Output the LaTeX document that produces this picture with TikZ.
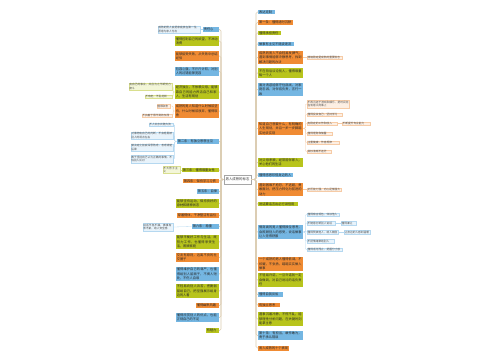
\documentclass[tikz,border=0pt]{standalone}
\usepackage{fontspec}
\newfontfamily\cjk{Noto Sans CJK SC}
\XeTeXlinebreaklocale "zh"
\XeTeXlinebreakskip = 0pt plus 1pt
\definecolor{cB}{HTML}{74B6E2}
\definecolor{cO}{HTML}{F08B33}
\definecolor{cG}{HTML}{B8C41C}
\definecolor{pB}{HTML}{E8F3FB}
\definecolor{pO}{HTML}{FDEFE3}
\definecolor{pG}{HTML}{F3F6D8}
\definecolor{lB}{HTML}{B5D8F0}
\definecolor{lO}{HTML}{F6CBA6}
\definecolor{lG}{HTML}{D9DF8E}
\definecolor{trk}{HTML}{DCCDB2}
\tikzset{
  base/.style={inner sep=1pt, align=left, font=\cjk\fontsize{3.2}{4.3}\selectfont, text=black!85},
  bb/.style={base, fill=cB},
  ob/.style={base, fill=cO},
  gb/.style={base, fill=cG},
  sub/.style={inner sep=0.6pt, align=left, font=\cjk\fontsize{2.7}{3.5}\selectfont, text=black!70, line width=0.2pt},
  pb/.style={sub, fill=pB, draw=lB},
  po/.style={sub, fill=pO, draw=lO},
  pg/.style={sub, fill=pG, draw=lG},
  trunk/.style={draw=trk, line width=0.6pt, rounded corners=1.5pt},
  sB/.style={draw=lB, line width=0.3pt, rounded corners=1pt},
  sO/.style={draw=lO, line width=0.3pt, rounded corners=1pt},
  sG/.style={draw=lG, line width=0.3pt, rounded corners=1pt},
  R/.style={anchor=west},
  L/.style={anchor=east},
}
\begin{document}
\begin{tikzpicture}[x=1pt,y=-1pt]
\useasboundingbox[fill=white] (0,0) rectangle (500,360);
% centre
\node[draw=black!35, fill=white, line width=0.3pt, inner sep=1pt, minimum width=27pt, minimum height=9pt, font=\cjk\fontsize{3.4}{4.3}\selectfont, text=black!80] (C) at (237.5,179.5) {男人成熟的标志};
\coordinate (tR) at (256,179.5);
\coordinate (tL) at (221,179.5);

% ---------- right side ----------
\node[bb,R,text width=15pt] (R1) at (258,12) {表达克制};
\node[ob,R,text width=33pt] (R2) at (258,22.5) {第一条：懂得适时沉默};
\node[gb,R,text width=21pt] (R3) at (258,33) {懂得承担责任};
\node[bb,R,text width=34pt] (R4) at (258,44) {做事有主见不随波逐流};
\node[ob,R,text width=43pt] (R5) at (258,57.5) {成熟的男人不会轻易发脾气，遇到事情能够冷静思考，找到解决问题的办法};
\node[po,R,text width=34pt] (R5a) at (307,57.5) {情绪稳定是成熟的重要标志};
\node[gb,R,text width=43pt] (R6) at (258,73) {不在背后议论别人，懂得尊重每一个人};
\node[bb,R,text width=43pt] (R7) at (258,89.5) {面对诱惑能够守住底线，对家庭忠诚，对伴侣负责，言行一致};
\node[ob,R,text width=43pt] (R8) at (258,128.5) {知道自己想要什么，有明确的人生规划，并且一步一步脚踏实地去实现};
\node[po,R,text width=41pt] (R8a) at (307,104) {不再沉迷于游戏和娱乐，把时间花在有意义的事上};
\node[po,R,text width=34pt] (R8b) at (307,114.5) {懂得投资自己，坚持学习};
\node[po,R,text width=29pt] (R8c) at (307,123.5) {有稳定的工作和收入};
\node[po,R,text width=27pt] (R8c1) at (342,123.5) {不断提升专业能力};
\node[po,R,text width=24pt] (R8d) at (307,133.5) {懂得理财和储蓄};
\node[po,R,text width=31pt] (R8e) at (307,142.5) {注重健康，作息规律};
\node[po,R,text width=23pt] (R8f) at (307,151.5) {目标清晰不迷茫};
\node[gb,R,text width=43pt] (R9) at (258,162.5) {对父母孝顺，经常陪伴家人，关心他们的生活};
\node[bb,R,text width=33pt] (R10) at (258,175) {懂得感恩珍惜身边的人};
\node[ob,R,text width=43pt] (R11) at (258,189.5) {遇到困难不抱怨，不逃避，勇敢面对，把压力转化为前进的动力};
\node[po,R,text width=33pt] (R11a) at (307,189.5) {抗压能力强，内心足够强大};
\node[gb,R,text width=38pt] (R12) at (258,204) {说话算话言出必行讲信用};
\node[bb,R,text width=43pt] (R13) at (258,232) {情商高的男人懂得换位思考，会照顾别人的感受，说话做事让人觉得舒服};
\node[pb,R,text width=31pt] (R13a) at (307,214.5) {懂得察言观色，体谅他人};
\node[pb,R,text width=27pt] (R13b) at (307,223) {不随意打断别人说话};
\node[pb,R,text width=14pt] (R13b1) at (341,223) {懂得谦让};
\node[pb,R,text width=30pt] (R13c) at (307,232) {懂得赞美他人，给人鼓励};
\node[pb,R,text width=25pt] (R13c1) at (344,232) {让身边的人感到温暖};
\node[pb,R,text width=26pt] (R13d) at (307,241) {不把情绪带给别人};
\node[pb,R,text width=34pt] (R13e) at (307,249.5) {懂得适可而止，把握分寸感};
\node[ob,R,text width=43pt] (R14) at (258,264) {一个成熟的男人懂得低调，不炫耀，不张扬，踏踏实实做人做事};
\node[gb,R,text width=43pt] (R15) at (258,280) {不轻易许诺，一旦许诺就一定会做到，对自己说过的话负责任};
\node[bb,R,text width=23pt] (R16) at (258,294.5) {懂得自我反省};
\node[ob,R,text width=20pt] (R17) at (258,305) {有独立思考};
\node[gb,R,text width=43pt] (R18) at (258,319) {遇事沉着冷静，不慌不乱，能够理性分析问题，在关键时刻能拿主意};
\node[bb,R,text width=43pt] (R19) at (258,335.5) {第十条：有担当，敢作敢为，勇于承认错误};
\node[ob,R,text width=29pt] (R20) at (258,348) {男人成熟的十个表现};

% ---------- left side ----------
\node[bb,L,text width=14pt] (L1) at (219,29.5) {责任心};
\node[pb,L,text width=41pt] (L1a) at (200,29.5) {成熟的男人会把家庭放在第一位，愿意为家人付出};
\node[gb,L,text width=42pt] (L2) at (219,41) {懂得控制自己的欲望，不冲动消费};
\node[ob,L,text width=42pt] (L3) at (219,56) {能够接受失败，从失败中总结经验};
\node[bb,L,text width=42pt] (L4) at (219,71.5) {包容心强，不斤斤计较，对别人的过错能够宽容};
\node[gb,L,text width=42pt] (L5) at (219,92) {经济独立，不依赖父母，能够靠自己的能力养活自己和家人，生活有规划};
\node[pg,L,text width=42pt] (L5a) at (172,86.5) {有自己的事业，并且为之不断努力奋斗};
\node[pg,L,text width=26pt] (L5b) at (172,96.5) {不啃老，不乱花钱};
\node[ob,L,text width=42pt] (L6) at (219,111) {成熟的男人知道什么时候该坚持，什么时候该放弃，懂得取舍};
\node[po,L,text width=12pt] (L6a) at (170,106) {懂得取舍};
\node[po,L,text width=29pt] (L6b) at (172,115.5) {不执着于得不到的东西};
\node[bb,L,text width=40pt] (L7) at (219,141.5) {第二条：有独立思想主见};
\node[pb,L,text width=23pt] (L7a) at (173,124.5) {不人云亦云随大流};
\node[pb,L,text width=41pt] (L7b) at (173,135.5) {对事物有自己的判断，不会轻易被别人的观点左右};
\node[pb,L,text width=41pt] (L7c) at (173,147.5) {做决定之前会深思熟虑，考虑清楚后果};
\node[pb,L,text width=41pt] (L7d) at (173,159) {敢于坚持自己认为正确的事情，不怕别人反对};
\node[gb,L,text width=35pt] (L8) at (219,170) {第三条：懂得尊重女性};
\node[pg,L,text width=16pt] (L8a) at (180,170) {不大男子主义};
\node[ob,L,text width=34pt] (L9) at (219,181) {第四条：保持学习习惯};
\node[bb,L,text width=20pt] (L10) at (219,191.5) {第五条：自律};
\node[gb,L,text width=41pt] (L11) at (219,203.5) {能够坚持运动，保持良好的身材和精神状态};
\node[ob,L,text width=40pt] (L12) at (219,215.5) {穿着得体，干净整洁有品位};
\node[bb,L,text width=25pt] (L13) at (219,226.5) {第六条：稳重};
\node[pb,L,text width=29pt] (L13a) at (173,227) {说话不急不躁，做事有条不紊，给人安全感};
\node[gb,L,text width=41pt] (L14) at (219,242) {能够平衡好工作与生活，既努力工作，也懂得享受生活，照顾家庭};
\node[ob,L,text width=41pt] (L15) at (219,257.5) {交友有原则，远离不良的社交圈子};
\node[bb,L,text width=41pt] (L16) at (219,274) {懂得维护自己的尊严，也懂得给别人留面子，不揭人短处，不伤人自尊};
\node[gb,L,text width=41pt] (L17) at (219,291) {不轻易向别人诉苦，把脆弱留给自己，把坚强展示给身边的人看};
\node[ob,L,text width=21pt] (L18) at (219,305.5) {懂得幽默风趣};
\node[bb,L,text width=41pt] (L19) at (219,317.5) {懂得欣赏别人的优点，也能正视自己的不足};
\node[gb,L,text width=11pt] (L20) at (219,330.5) {有魅力};

% ---------- trunk connectors ----------
\foreach \n in {R1,R2,R3,R4,R5,R6,R7,R8,R9,R10,R11,R12,R13,R14,R15,R16,R17,R18,R19,R20}
  \draw[trunk] (C.east) -- (tR) |- (\n.west);
\foreach \n in {L1,L2,L3,L4,L5,L6,L7,L8,L9,L10,L11,L12,L13,L14,L15,L16,L17,L18,L19,L20}
  \draw[trunk] (C.west) -- (tL) |- (\n.east);

% ---------- sub connectors ----------
\draw[sO] (R5.east) -- (R5a.west);
\foreach \n in {R8a,R8b,R8c,R8d,R8e,R8f}
  \draw[sO] (R8.east) -- ++(2,0) |- (\n.west);
\draw[sO] (R8c.east) -- (R8c1.west);
\draw[sO] (R11.east) -- (R11a.west);
\foreach \n in {R13a,R13b,R13c,R13d,R13e}
  \draw[sB] (R13.east) -- ++(2,0) |- (\n.west);
\draw[sB] (R13b.east) -- (R13b1.west);
\draw[sB] (R13c.east) -- (R13c1.west);

\draw[sB] (L1.west) -- (L1a.east);
\foreach \n in {L5a,L5b}
  \draw[sG] (L5.west) -- ++(-1.5,0) |- (\n.east);
\foreach \n in {L6a,L6b}
  \draw[sO] (L6.west) -- ++(-1.5,0) |- (\n.east);
\foreach \n in {L7a,L7b,L7c,L7d}
  \draw[sB] (L7.west) -- ++(-2,0) |- (\n.east);
\draw[sG] (L8.west) -- (L8a.east);
\draw[sB] (L13.west) -- (L13a.east);
\end{tikzpicture}
\end{document}
